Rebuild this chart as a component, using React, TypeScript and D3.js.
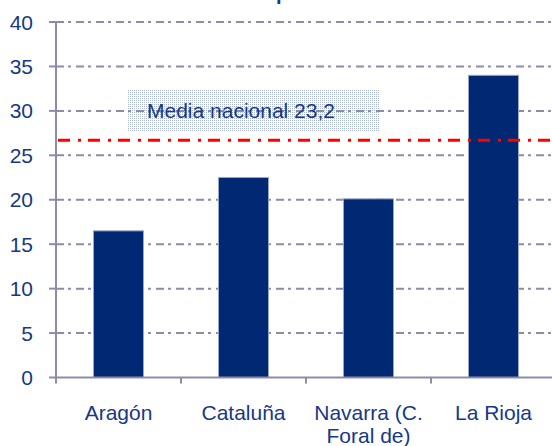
import React from "react";
import * as d3 from "d3";

const categories: string[][] = [["Aragón"], ["Cataluña"], ["Navarra (C.", "Foral de)"], ["La Rioja"]];
const values: number[] = [16.5, 22.5, 20.1, 34.0];
const yTicks: number[] = [0, 5, 10, 15, 20, 25, 30, 35, 40];
const mediaLineValue = 26.7;
const mediaLabel = "Media nacional 23,2";
const title = "Grupos";

const W = 552;
const H = 446;
const left = 56;
const right = 556;
const top = 22;
const bottom = 377.5;

export default function App() {
  const x = d3.scaleBand<number>().domain(d3.range(categories.length)).range([left, right]).paddingInner(0.6).paddingOuter(0.3);
  const xb = d3.scaleBand<number>().domain(d3.range(categories.length)).range([left, right]);
  const y = d3.scaleLinear().domain([0, 40]).range([bottom, top]);
  const navy = "#002873";
  const txt = "#163886";
  const grid = "#8c8ca8";
  const font = "Liberation Sans, Arial, sans-serif";
  const fs = 21;

  return (
    <svg width={W} height={H} style={{ position: "absolute", left: 0, top: 0 }} fontFamily={font}>
      <defs>
        <pattern id="dots" width="2" height="2" patternUnits="userSpaceOnUse">
          <rect x="0" y="0" width="1" height="1" fill="#8c9ccc" />
        </pattern>
      </defs>
      <rect width={W} height={H} fill="#fff" />
      <text x={276} y={0} textAnchor="middle" fontSize={20} fontWeight="bold" fill={txt}>{title}</text>
      <rect x={127} y={89} width={253} height={43} fill="url(#dots)" opacity={0.75} />
      {yTicks.filter((t) => t > 0).map((t) => (
        <line key={t} x1={left} x2={W} y1={y(t)} y2={y(t)} stroke={grid} strokeWidth={2} strokeDasharray="8 4 3 5" />
      ))}
      {yTicks.map((t) => (
        <line key={"tk" + t} x1={49} x2={left} y1={y(t)} y2={y(t)} stroke={grid} strokeWidth={2} />
      ))}
      {yTicks.map((t) => (
        <text key={"tl" + t} x={33} y={y(t) + 7.5} textAnchor="end" fontSize={fs} fill={txt}>{t}</text>
      ))}
      {values.map((v, i) => (
        <rect key={i} x={x(i)} y={y(v)} width={x.bandwidth()} height={y(0) - y(v)} fill={navy} stroke="#9aa6c8" strokeWidth={1} />
      ))}
      <text x={147} y={118} fontSize={fs} fill={txt}>{mediaLabel}</text>
      <line x1={58} x2={W} y1={y(mediaLineValue)} y2={y(mediaLineValue)} stroke="#ff0000" strokeWidth={3} strokeDasharray="12 8 3 7" />
      <line x1={left} x2={left} y1={top} y2={bottom} stroke={grid} strokeWidth={2} />
      <line x1={left} x2={W} y1={bottom} y2={bottom} stroke={grid} strokeWidth={2} />
      {d3.range(categories.length + 1).map((i) => {
        const xx = i < categories.length ? (xb(i) as number) : right;
        return <line key={"xt" + i} x1={xx} x2={xx} y1={bottom} y2={bottom + 6} stroke={grid} strokeWidth={2} />;
      })}
      {categories.map((lines, i) => (
        <text key={"xl" + i} textAnchor="middle" fontSize={fs} fill={txt}>
          {lines.map((l, j) => (
            <tspan key={j} x={(xb(i) as number) + xb.bandwidth() / 2} y={420 + j * 23}>{l}</tspan>
          ))}
        </text>
      ))}
    </svg>
  );
}
